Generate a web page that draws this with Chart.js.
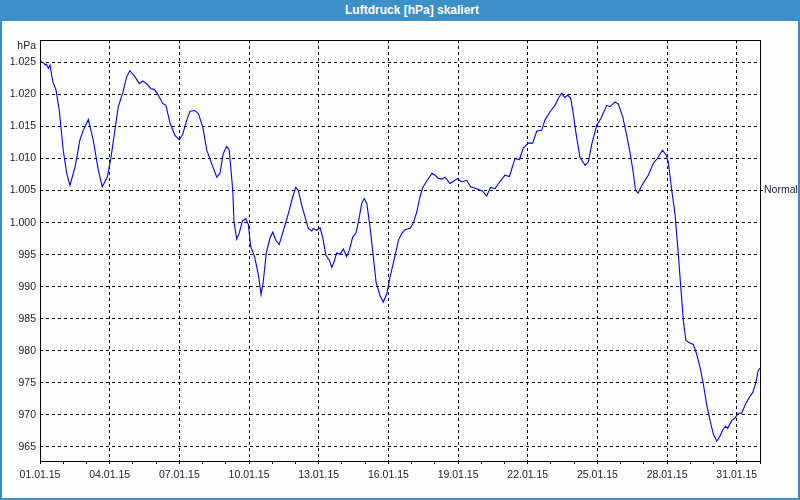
<!DOCTYPE html>
<html>
<head>
<meta charset="utf-8">
<script src="https://cdn.jsdelivr.net/npm/chart.js@4"></script>
<style>
html,body{margin:0;padding:0;background:#fbfefc;}
#wrap{position:relative;width:800px;height:500px;box-sizing:border-box;background:#fbfefc;border-left:2px solid #3c8fc7;border-right:2px solid #3c8fc7;border-bottom:2px solid #3c8fc7;overflow:hidden;}
#title{position:absolute;left:-2px;top:0;width:800px;height:21px;background:#3c8fc7;color:#fff;font:bold 12px "Liberation Sans",Arial,sans-serif;line-height:21px;text-align:center;padding-left:24px;box-sizing:border-box;z-index:2;}
#cv{position:absolute;left:-2px;top:0;}
</style>
</head>
<body>
<div id="wrap">
<div id="title">Luftdruck [hPa] skaliert</div>
<canvas id="cv" width="800" height="500"></canvas>
</div>
<script>
// Days since 01.01.15 00:00
const days = [0,0.09,0.17,0.22,0.28,0.36,0.43,0.55,0.69,0.83,1.00,1.15,1.29,1.51,1.72,1.86,2.08,2.29,2.51,2.68,2.90,3.06,3.37,3.56,3.73,3.87,4.09,4.28,4.42,4.59,4.77,4.92,5.09,5.28,5.42,5.60,5.81,6.00,6.14,6.32,6.46,6.67,6.82,7.01,7.18,7.39,7.61,7.75,7.89,8.04,8.15,8.20,8.30,8.35,8.47,8.58,8.72,8.86,8.97,9.07,9.24,9.40,9.52,9.61,9.74,9.90,10.02,10.16,10.30,10.48,10.59,10.73,10.88,11.01,11.12,11.27,11.41,11.55,11.70,11.77,11.91,12.06,12.17,12.31,12.46,12.56,12.66,12.77,12.92,13.06,13.20,13.32,13.46,13.61,13.75,13.85,13.96,14.07,14.21,14.32,14.47,14.64,14.78,14.93,15.07,15.24,15.43,15.57,15.72,15.93,16.07,16.22,16.36,16.48,16.65,16.88,17.01,17.15,17.30,17.44,17.65,17.87,17.97,18.16,18.37,18.54,18.80,19.06,19.23,19.40,19.59,19.81,20.02,20.21,20.45,20.64,20.81,21.02,21.21,21.39,21.60,21.74,21.96,22.17,22.32,22.46,22.60,22.72,22.85,22.96,23.08,23.25,23.47,23.61,23.76,23.97,24.15,24.40,24.54,24.76,24.90,25.09,25.26,25.40,25.54,25.64,25.75,25.91,26.05,26.19,26.41,26.58,26.80,26.95,27.05,27.20,27.34,27.48,27.59,27.70,27.81,27.96,28.13,28.27,28.42,28.56,28.70,28.85,28.99,29.14,29.25,29.42,29.52,29.61,29.78,29.92,30.06,30.21,30.35,30.54,30.69,30.83,30.92,31.00];
const pressure = [1025.3,1025.0,1024.9,1024.6,1024.7,1024.1,1024.6,1022.0,1020.7,1017.5,1011.3,1007.7,1005.8,1008.7,1012.9,1014.4,1016.1,1012.9,1008.2,1005.6,1007.1,1010.25,1018.1,1020.2,1022.75,1023.7,1022.75,1021.7,1022.1,1021.7,1020.9,1020.8,1019.9,1018.6,1018.3,1015.5,1013.6,1012.9,1013.75,1016.0,1017.4,1017.5,1017.0,1014.9,1011.3,1009.2,1007.1,1007.7,1010.8,1011.9,1011.3,1009.2,1005.0,1000.2,997.4,998.4,1000.3,1000.6,999.7,996.3,994.7,991.9,988.8,990.7,995.2,997.6,998.5,997.2,996.6,998.8,1000.1,1001.9,1004.0,1005.5,1005.05,1002.7,1000.9,999.1,998.7,999.1,998.8,999.2,997.75,994.9,994.1,993.0,993.85,995.25,995.05,995.9,994.7,995.7,997.7,998.4,1000.9,1003.0,1003.75,1003.0,999.3,995.7,990.7,988.6,987.6,988.9,991.5,994.1,997.2,998.3,998.9,999.1,999.9,1001.65,1004.0,1005.5,1006.5,1007.7,1007.4,1006.9,1006.8,1007.1,1006.1,1006.6,1006.9,1006.35,1006.6,1005.6,1005.3,1004.9,1004.15,1005.5,1005.3,1006.45,1007.4,1007.2,1010.0,1009.85,1011.65,1012.4,1012.4,1014.3,1014.4,1016.0,1017.3,1018.3,1019.4,1020.2,1019.5,1019.9,1019.4,1017.0,1013.9,1010.15,1008.95,1009.5,1012.3,1015.2,1016.25,1018.3,1018.1,1018.85,1018.5,1016.5,1013.6,1011.0,1007.9,1005.0,1004.6,1005.8,1006.6,1007.4,1009.3,1010.0,1011.3,1010.6,1009.5,1005.05,1001.4,995.2,989.9,984.7,981.6,981.25,981.0,979.5,977.4,974.8,971.7,969.1,967.0,965.9,966.5,967.8,968.2,967.9,969.1,969.5,970.25,970.25,971.45,972.75,973.5,975.1,976.9,977.3];

const xTickLabels = ['01.01.15','04.01.15','07.01.15','10.01.15','13.01.15','16.01.15','19.01.15','22.01.15','25.01.15','28.01.15','31.01.15'];
const yTicks = [965,970,975,980,985,990,995,1000,1005,1010,1015,1020,1025];
const normalValue = [1005];
const normalLabel = ['Normal'];
const yUnit = 'hPa';

const TXT = '#1a1a3a';
const FONT = {family:'"Liberation Sans", Arial, sans-serif', size:10.5};

function fmtY(v){ return v >= 1000 ? '1.' + String(v-1000).padStart(3,'0') : String(v); }

const framePlugin = {
  id:'frame',
  afterDraw(chart){
    const {ctx, chartArea:a} = chart;
    ctx.save();
    ctx.strokeStyle = '#000';
    ctx.lineWidth = 1;
    ctx.strokeRect(Math.round(a.left)+0.5, Math.round(a.top)+0.5, Math.round(a.right-a.left), Math.round(a.bottom-a.top));
    ctx.fillStyle = TXT;
    ctx.font = '10.5px "Liberation Sans", Arial, sans-serif';
    ctx.textAlign = 'right';
    ctx.textBaseline = 'middle';
    ctx.fillText(yUnit, a.left-4, 46);
    ctx.restore();
  }
};

new Chart(document.getElementById('cv'), {
  type:'line',
  data:{datasets:[{
    data: days.map((d,i)=>({x:d, y:pressure[i]})),
    borderColor:'#0000ff', borderWidth:1.1, pointRadius:0, tension:0, fill:false
  }]},
  options:{
    responsive:false, animation:false, events:[],
    layout:{padding:{top:40,left:0,right:0,bottom:0}},
    plugins:{legend:{display:false}, title:{display:false}, tooltip:{enabled:false}},
    scales:{
      x:{
        type:'linear', min:0, max:31,
        afterBuildTicks(s){ const t=[]; for(let i=0;i<=31;i++) t.push({value:i}); s.ticks=t; },
        afterFit(s){ s.height = 39; },
        ticks:{autoSkip:false, maxRotation:0, padding:5, color:TXT, font:FONT,
          callback(v){ return (v%3===0 && v/3 < xTickLabels.length) ? xTickLabels[v/3] : ''; }},
        grid:{
          color(c){ const v=c.tick && c.tick.value; return (v%3===0 && v>0 && v<31) ? '#000' : 'rgba(0,0,0,0)'; },
          lineWidth:1, tickLength:3, tickColor:'#000', drawTicks:true
        },
        border:{display:false, dash:[3,3]}
      },
      y:{
        type:'linear', position:'left', min:962.8, max:1028.5,
        afterBuildTicks(s){ s.ticks = yTicks.map(v=>({value:v})); },
        afterFit(s){ s.width = 40; },
        ticks:{padding:4, color:TXT, font:FONT, callback(v){ return fmtY(v); }},
        grid:{color:'#000', lineWidth:1, drawTicks:false},
        border:{display:false, dash:[3,3]}
      },
      y2:{
        type:'linear', position:'right', min:962.8, max:1028.5,
        afterBuildTicks(s){ s.ticks = normalValue.map(v=>({value:v})); },
        afterFit(s){ s.width = 40; },
        ticks:{padding:1, color:TXT, font:FONT, callback(v,i){ return normalLabel[i] || ''; }},
        grid:{drawOnChartArea:false, drawTicks:true, tickLength:3, tickColor:'#000'},
        border:{display:false}
      }
    }
  },
  plugins:[framePlugin]
});
</script>
</body>
</html>
